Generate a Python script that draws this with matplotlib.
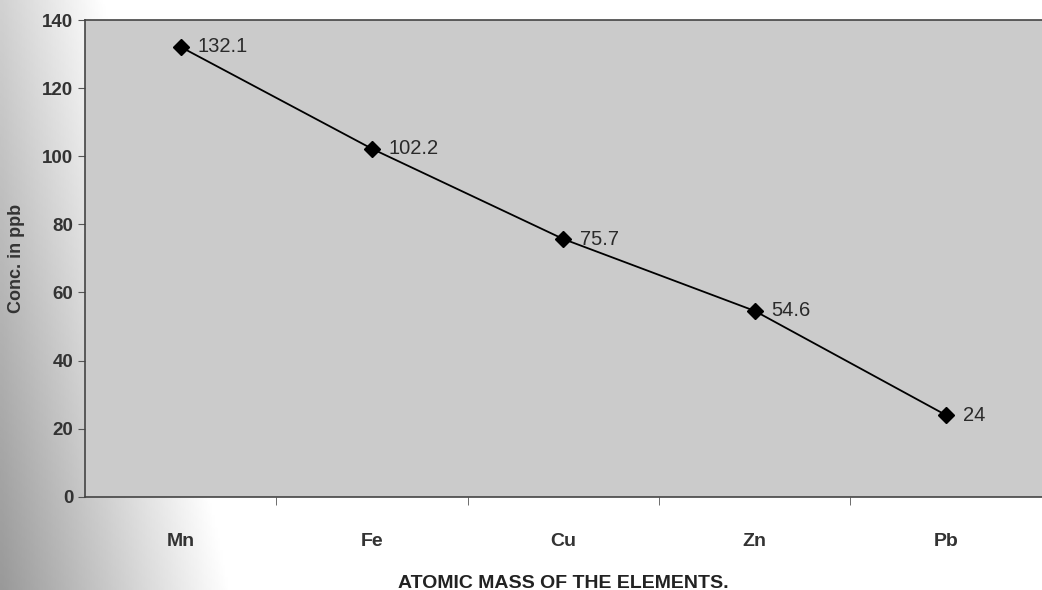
import numpy as np
import matplotlib.pyplot as plt

# Element concentrations (ppb)
elements = ['Mn', 'Fe', 'Cu', 'Zn', 'Pb']
conc = [132.1, 102.2, 75.7, 54.6, 24]
labels = ['132.1', '102.2', '75.7', '54.6', '24']

plt.rcParams['font.family'] = ['Liberation Sans', 'DejaVu Sans']

fig = plt.figure(figsize=(10.42, 5.90), dpi=100)
fig.patch.set_facecolor('white')

# grey shading along the left margin
bg = fig.add_axes([0, 0, 1, 1], zorder=-10)
gx = np.linspace(0, 1, 400)
gy = np.linspace(0, 1, 200)
X, Y = np.meshgrid(gx, gy)
shade = 0.6 + 0.4 * np.clip(X / 0.22, 0, 1) + 0.22 * Y
bg.imshow(np.clip(shade, 0, 1), cmap='gray', vmin=0, vmax=1, aspect='auto',
          origin='lower', extent=[0, 1, 0, 1])
bg.axis('off')

ax = fig.add_axes([0.0816, 0.158, 0.918, 0.808])
ax.set_facecolor('#cbcbcb')

x = np.arange(len(elements))
ax.plot(x, conc, color='black', lw=1.3, marker='D', markersize=8.5,
        markerfacecolor='black', markeredgecolor='black')
for xi, yi, lab in zip(x, conc, labels):
    ax.annotate(lab, (xi, yi), xytext=(12, 0), textcoords='offset points',
                va='center', ha='left', fontsize=14.5, color='#2a2a2a')

ax.set_xlim(-0.5, len(elements) - 0.5)
ax.set_ylim(0, 140)
ax.set_yticks(range(0, 141, 20))
ax.set_xticks(x)
ax.set_xticklabels(elements, fontsize=14, fontweight='bold', color='#333333')
ax.set_xticks(np.arange(0.5, len(elements) - 0.5), minor=True)
ax.tick_params(axis='x', which='major', length=0, pad=26)
ax.tick_params(axis='x', which='minor', length=6, color='#555555')
ax.tick_params(axis='y', labelsize=13.5, length=5, color='#555555', labelcolor='#333333')
for t in ax.get_yticklabels():
    t.set_fontweight('bold')

for s in ['left', 'bottom', 'right', 'top']:
    ax.spines[s].set_color('#444444')
    ax.spines[s].set_linewidth(1.2)
ax.spines['right'].set_visible(False)

ax.set_ylabel('Conc. in ppb', fontsize=13, fontweight='bold', color='#333333', labelpad=12)
ax.set_xlabel('ATOMIC MASS OF THE ELEMENTS.', fontsize=14, fontweight='bold',
              color='#222222', labelpad=18)

plt.savefig('out.png', dpi=100)
